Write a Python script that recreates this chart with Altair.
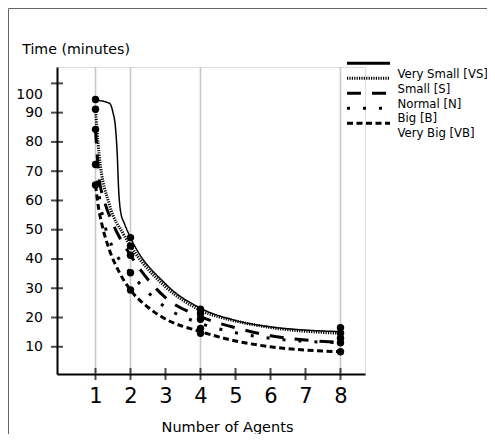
import altair as alt
import pandas as pd

# ---- data ----
series = ["Very Small [VS]", "Small [S]", "Normal [N]", "Big [B]", "Very Big [VB]"]
agents = [1, 2, 4, 8]
x_ticks = [1, 2, 3, 4, 5, 6, 7, 8]
y_ticks = [10, 20, 30, 40, 50, 60, 70, 80, 90, 100]

# measured points (time in minutes) per series at 1, 2, 4, 8 agents
pts_vs = [94.5, 47.3, 22.8, 16.5]
pts_s = [91.2, 44.4, 21.4, 14.6]
pts_n = [84.3, 41.3, 19.4, 12.9]
pts_b = [72.3, 35.3, 16.3, 11.4]
pts_vb = [65.3, 29.4, 14.6, 8.3]

# curves
cx_vs = [1, 1.4, 1.5, 1.57, 1.62, 1.66, 1.72, 1.83, 2, 3, 4, 5, 6, 7, 8]
cy_vs = [94.3, 93.2, 90, 85, 76, 64, 56, 52, 47.3, 31.5, 23.2, 19, 16.8, 15.7, 15.2]
cx_s = [1, 1.1, 1.4, 1.8, 2, 3, 4, 5, 6, 8]
cy_s = [91.2, 76, 58.5, 48.5, 44.5, 30.5, 22.5, 18.8, 16.6, 14.6]
cx_n = [1, 1.1, 1.25, 1.5, 2, 3, 4, 5, 6, 7, 8]
cy_n = [84.3, 68, 60, 52, 41.3, 26.8, 20.3, 16.5, 13.8, 12.3, 11.5]
cx_b = [1, 1.15, 1.3, 1.5, 2, 3, 4, 5, 6, 8]
cy_b = [72.3, 58, 50, 43.7, 35.3, 23.5, 18, 14.8, 12.9, 11.4]
cx_vb = [1, 1.08, 1.2, 1.4, 1.7, 2, 2.5, 3, 4, 5, 6, 7, 8]
cy_vb = [65.3, 58, 51, 43, 35, 29.4, 23.5, 19.5, 15.2, 12, 10, 8.9, 8.3]

# ---- tables ----
pts_all = [pts_vs, pts_s, pts_n, pts_b, pts_vb]
curves = [(cx_vs, cy_vs), (cx_s, cy_s), (cx_n, cy_n), (cx_b, cy_b), (cx_vb, cy_vb)]
points_df = pd.DataFrame(
    [{"series": s, "agents": a, "time": v} for s, vals in zip(series, pts_all) for a, v in zip(agents, vals)]
)
curve_df = pd.DataFrame(
    [{"series": s, "agents": a, "time": v} for s, (xs, ys) in zip(series, curves) for a, v in zip(xs, ys)]
)
grid_df = pd.DataFrame({"agents": agents})
xt_df = pd.DataFrame({"agents": x_ticks})
yt_df = pd.DataFrame({"time": y_ticks})

# styles
dashes = [[1, 0], [1.2, 1.2], [14, 11], [3, 13], [6, 3.5]]
widths = [1.5, 3, 3, 3, 3]

W, H = 308, 307
xscale = alt.Scale(domain=[-0.1, 8.7], nice=False, zero=False)
yscale = alt.Scale(domain=[0.7, 105.6], nice=False, zero=False)

xaxis = alt.Axis(
    values=x_ticks, ticks=False, grid=False, domainColor="black", domainWidth=2,
    labelFontSize=21, labelPadding=11, labelColor="black", labelFlush=False, labelOverlap=False,
    title="Number of Agents", titleFontSize=14.5, titleFontWeight="normal",
    titleColor="black", titleX=170, titleY=57, titleAlign="center", titleBaseline="alphabetic",
)
yaxis = alt.Axis(
    values=y_ticks, ticks=False, grid=False, domainColor="black", domainWidth=2,
    labelFontSize=14, labelPadding=14.5, labelColor="black", labelFlush=False, labelOverlap=False,
    labelOffset={"condition": {"test": "datum.value == 100", "value": 11}, "value": 0},
    title="Time (minutes)", titleFontSize=14.2, titleFontWeight="normal", titleColor="black",
    titleAngle=0, titleX=-35.3, titleY=-13.7, titleAlign="left", titleBaseline="alphabetic",
)

X = alt.X("agents:Q", scale=xscale, axis=xaxis)
Y = alt.Y("time:Q", scale=yscale, axis=yaxis)

grid = alt.Chart(grid_df).mark_rule(color="#c8c8c8", strokeWidth=1.6).encode(x=X)

lines = []
for s, d, w in zip(series, dashes, widths):
    lines.append(
        alt.Chart(curve_df).transform_filter(alt.datum.series == s)
        .mark_line(color="black", strokeWidth=w, strokeDash=d, interpolate="monotone")
        .encode(x=X, y=Y)
    )

dots = alt.Chart(points_df).mark_circle(size=55, color="black", opacity=1).encode(x=X, y=Y)

yt = alt.Chart(yt_df).mark_tick(orient="horizontal", size=12, thickness=2, color="black").encode(
    y=Y, x=alt.value(0)
)
xt = alt.Chart(xt_df).mark_tick(orient="vertical", size=12, thickness=2, color="black").encode(
    x=X, y=alt.value(H)
)

# legend (symbols and labels are offset in the reference)
leg_top, leg_step = -3.7, 15
lab_top = 7
legend_layers = []
for i, (d, s) in enumerate(zip(dashes, series)):
    legend_layers.append(
        alt.Chart(pd.DataFrame({"a": [0]})).mark_rule(color="black", strokeWidth=3, strokeDash=d).encode(
            x=alt.value(290), x2=alt.value(333), y=alt.value(leg_top + i * leg_step)
        )
    )
leg_df = pd.DataFrame({"label": series, "row": list(range(len(series)))})
leg_df["py"] = lab_top + leg_df["row"] * 14.8
leg_text = alt.Chart(leg_df).mark_text(
    align="left", baseline="middle", fontSize=13, color="black", font="DejaVu Sans Condensed"
).encode(x=alt.value(340.5), y=alt.Y("py:Q", scale=None), text="label:N")

frame = alt.Chart(pd.DataFrame({"a": [0]})).mark_rect(filled=False, stroke="#666666", strokeWidth=1).encode(
    x=alt.value(-48.5), y=alt.value(-58.5), x2=alt.value(W + 300), y2=alt.value(H + 300)
)

chart = alt.layer(frame, grid, *lines, dots, yt, xt, *legend_layers, leg_text).properties(
    width=W, height=H,
    autosize=alt.AutoSizeParams(type="none"),
    padding={"left": 49, "top": 59, "right": 122, "bottom": 60},
).configure_view(stroke=None).configure(font="DejaVu Sans")

chart.save("out.html", embed_options={"renderer": "svg", "actions": False})
